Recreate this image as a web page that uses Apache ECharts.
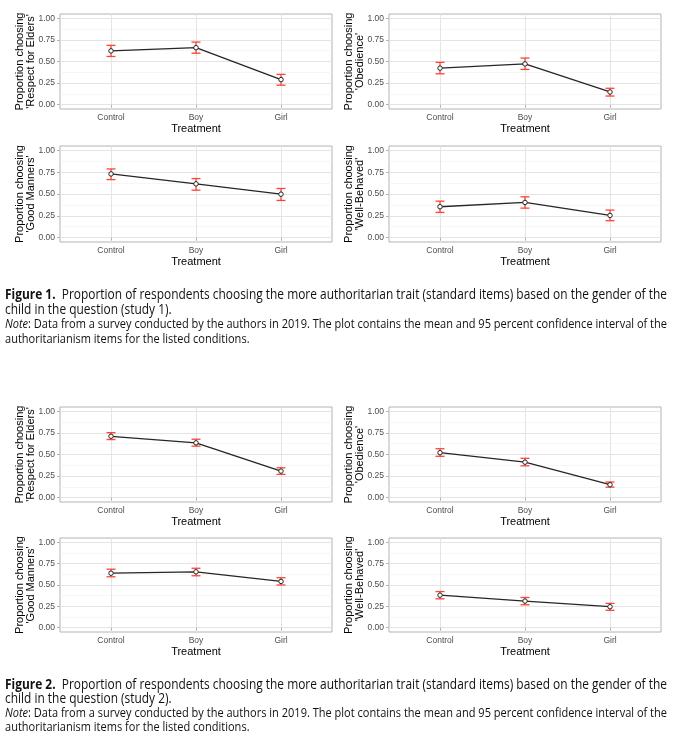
<!DOCTYPE html>
<html>
<head>
<meta charset="utf-8">
<script src="https://cdn.jsdelivr.net/npm/echarts@6/dist/echarts.min.js"></script>
<style>
  html, body { margin: 0; padding: 0; background: #fff; }
  #chart { position: absolute; left: 0; top: 0; width: 680px; height: 741px; }
  .cap { position: absolute; left: 5px; height: 15px; line-height: 15px; white-space: nowrap;
         font-family: "Open Sans", "Noto Sans", "Liberation Sans", sans-serif;
         color: #111; transform-origin: 0 50%; }
  .cap.big { font-size: 14px; }
  .cap.small { font-size: 13px; }
  .cap b { font-weight: bold; }
</style>
</head>
<body>
<div id="chart"></div>
<div class="cap big" data-p="a" data-full="1" style="top:286px"><b>Figure 1.</b>&nbsp; Proportion of respondents choosing the more authoritarian trait (standard items) based on the gender of the</div>
<div class="cap big" data-p="a" style="top:300.5px">child in the question (study 1).</div>
<div class="cap small" data-p="b" data-full="1" style="top:316px"><i>Note</i>: Data from a survey conducted by the authors in 2019. The plot contains the mean and 95 percent confidence interval of the</div>
<div class="cap small" data-p="b" style="top:330.5px">authoritarianism items for the listed conditions.</div>
<div class="cap big" data-p="c" data-full="1" style="top:676px"><b>Figure 2.</b>&nbsp; Proportion of respondents choosing the more authoritarian trait (standard items) based on the gender of the</div>
<div class="cap big" data-p="c" style="top:690px">child in the question (study 2).</div>
<div class="cap small" data-p="d" data-full="1" style="top:704.5px"><i>Note</i>: Data from a survey conducted by the authors in 2019. The plot contains the mean and 95 percent confidence interval of the</div>
<div class="cap small" data-p="d" style="top:718.5px">authoritarianism items for the listed conditions.</div>
<script>
// ---------- data ----------
const categories = ['Control', 'Boy', 'Girl'];
const yTickValues = [0, 0.25, 0.5, 0.75, 1];
const yTickLabels = ['0.00', '0.25', '0.50', '0.75', '1.00'];
const yMinorValues = [0.125, 0.375, 0.625, 0.875];
const traitNames = ["'Respect for Elders'", "'Obedience'", "'Good Manners'", "'Well-Behaved'"];
const xTitle = 'Treatment';
const yTitlePrefix = 'Proportion choosing';

// Study 1
const s1RespectMean = [0.623, 0.660, 0.290];
const s1RespectLow  = [0.558, 0.596, 0.226];
const s1RespectHigh = [0.687, 0.725, 0.351];
const s1ObedMean = [0.423, 0.472, 0.147];
const s1ObedLow  = [0.358, 0.408, 0.100];
const s1ObedHigh = [0.490, 0.540, 0.190];
const s1MannersMean = [0.730, 0.616, 0.498];
const s1MannersLow  = [0.665, 0.544, 0.426];
const s1MannersHigh = [0.787, 0.677, 0.563];
const s1BehavedMean = [0.354, 0.403, 0.255];
const s1BehavedLow  = [0.289, 0.338, 0.194];
const s1BehavedHigh = [0.418, 0.468, 0.316];
// Study 2
const s2RespectMean = [0.711, 0.635, 0.308];
const s2RespectLow  = [0.673, 0.597, 0.270];
const s2RespectHigh = [0.753, 0.677, 0.346];
const s2ObedMean = [0.521, 0.411, 0.150];
const s2ObedLow  = [0.479, 0.369, 0.122];
const s2ObedHigh = [0.567, 0.456, 0.182];
const s2MannersMean = [0.638, 0.654, 0.542];
const s2MannersLow  = [0.596, 0.608, 0.500];
const s2MannersHigh = [0.685, 0.696, 0.585];
const s2BehavedMean = [0.381, 0.312, 0.246];
const s2BehavedLow  = [0.338, 0.269, 0.204];
const s2BehavedHigh = [0.423, 0.354, 0.285];

const panels = [
  { trait: 0, mean: s1RespectMean, low: s1RespectLow, high: s1RespectHigh },
  { trait: 1, mean: s1ObedMean, low: s1ObedLow, high: s1ObedHigh },
  { trait: 2, mean: s1MannersMean, low: s1MannersLow, high: s1MannersHigh },
  { trait: 3, mean: s1BehavedMean, low: s1BehavedLow, high: s1BehavedHigh },
  { trait: 0, mean: s2RespectMean, low: s2RespectLow, high: s2RespectHigh },
  { trait: 1, mean: s2ObedMean, low: s2ObedLow, high: s2ObedHigh },
  { trait: 2, mean: s2MannersMean, low: s2MannersLow, high: s2MannersHigh },
  { trait: 3, mean: s2BehavedMean, low: s2BehavedLow, high: s2BehavedHigh }
];

// ---------- layout ----------
const gridRects = [
  { left: 60, top: 14, width: 272, height: 95 },
  { left: 389, top: 14, width: 272, height: 95 },
  { left: 60, top: 146, width: 272, height: 96 },
  { left: 389, top: 146, width: 272, height: 96 },
  { left: 60, top: 407, width: 272, height: 95 },
  { left: 389, top: 407, width: 272, height: 95 },
  { left: 60, top: 538, width: 272, height: 94 },
  { left: 389, top: 538, width: 272, height: 94 }
];

const FONT = '"Liberation Sans", Arial, Helvetica, sans-serif';
const RED = '#FF4336';
const grids = [], xAxes = [], yAxes = [], series = [];
const catPos = categories.map((c, i) => i + 1);

panels.forEach((p, i) => {
  grids.push(Object.assign({ show: true, borderColor: '#B3B3B3', borderWidth: 1, backgroundColor: '#fff', containLabel: false }, gridRects[i]));
  xAxes.push({
    type: 'value', gridIndex: i, min: 0.4, max: 3.6,
    name: xTitle, nameLocation: 'middle', nameGap: 14,
    nameTextStyle: { fontFamily: FONT, fontSize: 11, color: '#000' },
    axisLine: { show: false },
    axisTick: { show: true, length: 3, lineStyle: { color: '#B3B3B3' }, customValues: catPos },
    axisLabel: { fontFamily: FONT, fontSize: 8.5, color: '#4D4D4D', margin: 4, customValues: catPos,
                 formatter: v => categories[Math.round(v) - 1] || '' },
    splitLine: { show: true, lineStyle: { color: '#E4E4E4', width: 1 } }
  });
  yAxes.push({
    type: 'value', gridIndex: i, min: -0.05, max: 1.05, position: 'left',
    name: yTitlePrefix + '\n' + traitNames[p.trait], nameLocation: 'middle', nameGap: 23, nameRotate: 90,
    nameMoveOverlap: false,
    nameTextStyle: { fontFamily: FONT, fontSize: 11, color: '#000', lineHeight: 11.5 },
    axisLine: { show: false },
    axisTick: { show: true, length: 3, lineStyle: { color: '#B3B3B3' }, customValues: yTickValues },
    axisLabel: { fontFamily: FONT, fontSize: 8.5, color: '#4D4D4D', margin: 5, customValues: yTickValues,
                 formatter: v => { const k = yTickValues.findIndex(t => Math.abs(t - v) < 1e-9); return k >= 0 ? yTickLabels[k] : ''; } },
    splitLine: { show: true, lineStyle: { color: '#E4E4E4', width: 1 } }
  });
  // minor horizontal gridlines
  yAxes.push({
    type: 'value', gridIndex: i, min: -0.05, max: 1.05, position: 'right',
    axisLine: { show: false },
    axisTick: { show: false, customValues: yMinorValues },
    axisLabel: { show: false, customValues: yMinorValues },
    splitLine: { show: true, lineStyle: { color: '#F0F0F0', width: 0.6 } }
  });
  const yIdx = i * 2;
  series.push({
    type: 'custom', xAxisIndex: i, yAxisIndex: yIdx, silent: true, z: 2,
    data: categories.map((c, k) => [k + 1, p.low[k], p.high[k]]),
    renderItem: (params, api) => {
      const x = api.value(0);
      const a = api.coord([x, api.value(1)]);
      const b = api.coord([x, api.value(2)]);
      const hw = 4.5;
      const st = { stroke: RED, lineWidth: 1.3 };
      return { type: 'group', children: [
        { type: 'line', shape: { x1: a[0], y1: a[1], x2: b[0], y2: b[1] }, style: st },
        { type: 'line', shape: { x1: a[0] - hw, y1: a[1], x2: a[0] + hw, y2: a[1] }, style: st },
        { type: 'line', shape: { x1: b[0] - hw, y1: b[1], x2: b[0] + hw, y2: b[1] }, style: st }
      ]};
    }
  });
  series.push({
    type: 'line', xAxisIndex: i, yAxisIndex: yIdx, silent: true, z: 3,
    data: categories.map((c, k) => [k + 1, p.mean[k]]),
    symbol: 'circle', symbolSize: 4.5, showSymbol: true,
    lineStyle: { color: '#262626', width: 1.3 },
    itemStyle: { color: '#fff', borderColor: '#262626', borderWidth: 1 },
    animation: false
  });
});

const chart = echarts.init(document.getElementById('chart'), null, { renderer: 'canvas' });
chart.setOption({ animation: false, grid: grids, xAxis: xAxes, yAxis: yAxes, series: series });

// fit caption lines horizontally: full lines span 662px, continuation lines use same scale
const TARGET = 662;
const scales = {};
document.querySelectorAll('.cap[data-full]').forEach(el => {
  const w = el.getBoundingClientRect().width;
  scales[el.dataset.p] = TARGET / w;
});
document.querySelectorAll('.cap').forEach(el => {
  el.style.transform = 'scaleX(' + scales[el.dataset.p] + ')';
});
</script>
</body>
</html>
